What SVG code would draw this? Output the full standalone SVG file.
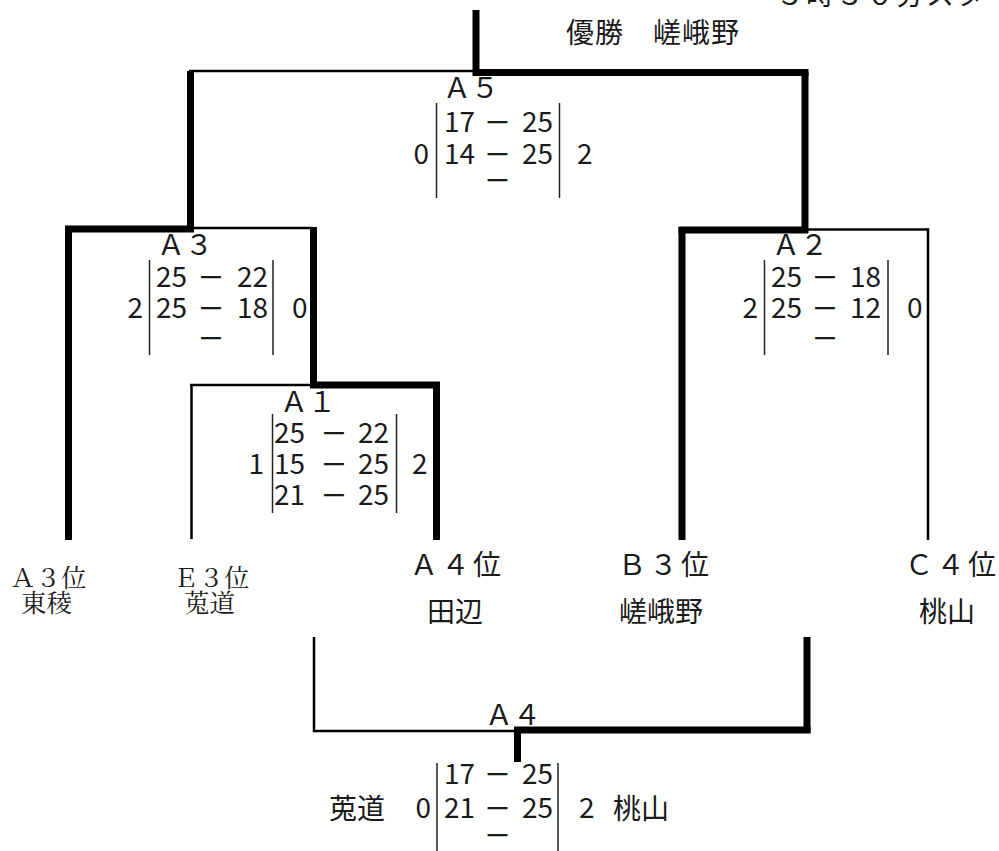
<svg xmlns="http://www.w3.org/2000/svg" width="999" height="851" viewBox="0 0 999 851">
<style>
  .thick { stroke:#000; stroke-width:7; fill:none; stroke-linecap:butt; }
  .thin { stroke:#000; stroke-width:2.5; fill:none; }
  .bar { stroke:#222; stroke-width:1.5; fill:none; }
  .g { font-family:"Noto Sans CJK JP","Noto Sans",sans-serif; fill:#1a1a1a; }
  .d { font-size:28px; }
  .k { font-size:25px; text-anchor:middle; }
  .lab { font-size:28px; }
  .m { font-family:"Noto Serif CJK JP","Liberation Serif","Noto Sans CJK JP",serif; fill:#1a1a1a; font-size:25.5px; }
  .e { text-anchor:end; }
</style>
<rect width="999" height="851" fill="#fff"/>
<g id="connectors">
  <line class="thick" x1="476" y1="10" x2="476" y2="76"/>
  <line class="thin" x1="189" y1="71" x2="476" y2="71"/>
  <line class="thick" x1="476" y1="72.5" x2="808.5" y2="72.5"/>
  <line class="thick" x1="190.5" y1="71" x2="190.5" y2="232"/>
  <line class="thick" x1="805" y1="72" x2="805" y2="233"/>
  <line class="thick" x1="65" y1="229" x2="194" y2="229"/>
  <line class="thin" x1="190" y1="228" x2="313" y2="228"/>
  <line class="thick" x1="68.5" y1="226" x2="68.5" y2="540"/>
  <line class="thick" x1="313.5" y1="227" x2="313.5" y2="388"/>
  <line class="thin" x1="190" y1="385" x2="313" y2="385"/>
  <line class="thick" x1="310" y1="385" x2="440" y2="385"/>
  <line class="thin" x1="191.5" y1="384" x2="191.5" y2="539"/>
  <line class="thick" x1="436.5" y1="382" x2="436.5" y2="540"/>
  <line class="thick" x1="678.5" y1="230" x2="808" y2="230"/>
  <line class="thin" x1="805" y1="229.5" x2="929" y2="229.5"/>
  <line class="thick" x1="682" y1="227" x2="682" y2="540"/>
  <line class="thin" x1="928" y1="228.5" x2="928" y2="540"/>
  <line class="thin" x1="314" y1="637" x2="314" y2="732"/>
  <line class="thin" x1="313" y1="731" x2="518" y2="731"/>
  <line class="thick" x1="514" y1="730" x2="810.5" y2="730"/>
  <line class="thick" x1="807" y1="637" x2="807" y2="733"/>
  <line class="thick" x1="517.5" y1="727" x2="517.5" y2="762"/>
</g>
<g id="header">
  <text class="g lab" x="566" y="43" letter-spacing="1">優勝　嵯峨野</text>
  <text class="g lab" x="776" y="5" letter-spacing="2">３時３０分スタート</text>
</g>
<g id="A5">
  <text class="g d" x="443" y="98">Ａ５</text>
  <line class="bar" x1="436.5" y1="103" x2="436.5" y2="198"/>
  <line class="bar" x1="559.5" y1="103" x2="559.5" y2="198"/>
  <text class="g d e" x="429" y="164">0</text>
  <text class="g d" x="444" y="132">17</text>
  <text class="g k" x="497.5" y="132">ー</text>
  <text class="g d e" x="553" y="132">25</text>
  <text class="g d" x="444" y="164">14</text>
  <text class="g k" x="497.5" y="164">ー</text>
  <text class="g d e" x="553" y="164">25</text>
  <text class="g k" x="497.5" y="190">ー</text>
  <text class="g d" x="577" y="164">2</text>
</g>
<g id="A3">
  <text class="g d" x="157" y="255">Ａ３</text>
  <line class="bar" x1="149.5" y1="260" x2="149.5" y2="355"/>
  <line class="bar" x1="273" y1="260" x2="273" y2="355"/>
  <text class="g d e" x="143" y="318">2</text>
  <text class="g d" x="156" y="287">25</text>
  <text class="g k" x="211" y="287">ー</text>
  <text class="g d e" x="268" y="287">22</text>
  <text class="g d" x="156" y="318">25</text>
  <text class="g k" x="211" y="318">ー</text>
  <text class="g d e" x="268" y="318">18</text>
  <text class="g k" x="211" y="348">ー</text>
  <text class="g d" x="292" y="318">0</text>
</g>
<g id="A2">
  <text class="g d" x="772" y="255">Ａ２</text>
  <line class="bar" x1="764.5" y1="260" x2="764.5" y2="355"/>
  <line class="bar" x1="888" y1="260" x2="888" y2="355"/>
  <text class="g d e" x="758" y="318">2</text>
  <text class="g d" x="771" y="287">25</text>
  <text class="g k" x="825" y="287">ー</text>
  <text class="g d e" x="881" y="287">18</text>
  <text class="g d" x="771" y="318">25</text>
  <text class="g k" x="825" y="318">ー</text>
  <text class="g d e" x="881" y="318">12</text>
  <text class="g k" x="825" y="348">ー</text>
  <text class="g d" x="907" y="318">0</text>
</g>
<g id="A1">
  <text class="g d" x="280" y="412">Ａ１</text>
  <line class="bar" x1="272.5" y1="414" x2="272.5" y2="513"/>
  <line class="bar" x1="396.5" y1="414" x2="396.5" y2="513"/>
  <text class="g d e" x="264" y="474">1</text>
  <text class="g d" x="274" y="443">25</text>
  <text class="g k" x="334" y="443">ー</text>
  <text class="g d e" x="389" y="443">22</text>
  <text class="g d" x="274" y="474">15</text>
  <text class="g k" x="334" y="474">ー</text>
  <text class="g d e" x="389" y="474">25</text>
  <text class="g d" x="274" y="505">21</text>
  <text class="g k" x="334" y="505">ー</text>
  <text class="g d e" x="389" y="505">25</text>
  <text class="g d" x="412" y="474">2</text>
</g>
<g id="teams">
  <text class="m" x="10" y="587">Ａ３位</text>
  <text class="m" x="21" y="612">東稜</text>
  <text class="m" x="173" y="587">Ｅ３位</text>
  <text class="m" x="184" y="612">莵道</text>
  <text class="g lab" x="410" y="575" letter-spacing="3.5">Ａ４位</text>
  <text class="g lab" x="427" y="622">田辺</text>
  <text class="g lab" x="618" y="575" letter-spacing="3.5">Ｂ３位</text>
  <text class="g lab" x="619" y="622">嵯峨野</text>
  <text class="g lab" x="905" y="575" letter-spacing="3.5">Ｃ４位</text>
  <text class="g lab" x="919" y="622">桃山</text>
</g>
<g id="A4">
  <text class="g d" x="485" y="725">Ａ４</text>
  <line class="bar" x1="437" y1="763" x2="437" y2="851"/>
  <line class="bar" x1="558" y1="763" x2="558" y2="851"/>
  <text class="g lab" x="329" y="819">莵道</text>
  <text class="g d e" x="431" y="818">0</text>
  <text class="g d" x="444" y="784">17</text>
  <text class="g k" x="497.5" y="784">ー</text>
  <text class="g d e" x="553" y="784">25</text>
  <text class="g d" x="444" y="818">21</text>
  <text class="g k" x="497.5" y="818">ー</text>
  <text class="g d e" x="553" y="818">25</text>
  <text class="g k" x="497.5" y="845">ー</text>
  <text class="g d" x="579" y="818">2</text>
  <text class="g lab" x="613" y="819">桃山</text>
</g>
</svg>
